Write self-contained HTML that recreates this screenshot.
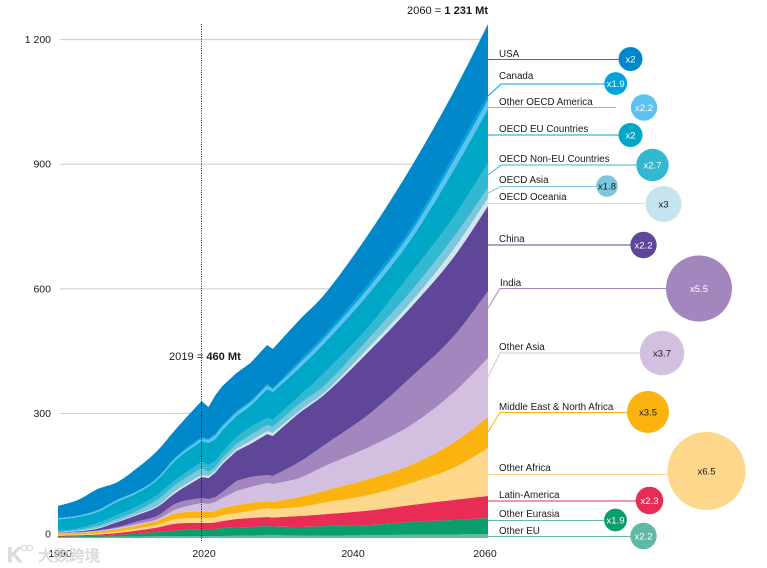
<!DOCTYPE html>
<html lang="en">
<head>
<meta charset="utf-8">
<title>Stacked area chart 2060 = 1 231 Mt</title>
<style>
html,body{margin:0;padding:0;background:#fff;width:767px;height:568px;overflow:hidden}
svg{display:block}
text{font-family:"Liberation Sans","Noto Sans CJK SC",sans-serif;fill:#1a1a1a}
.tick{font-size:10.5px}
.lab{font-size:9.8px}
.bub{font-size:9.5px;text-anchor:middle}
.lead{fill:none;stroke-width:1}
</style>
</head>
<body>
<svg id="chart" xmlns="http://www.w3.org/2000/svg" width="767" height="568" viewBox="0 0 767 568">
  <g id="grid"></g>
  <g id="areas"></g>
  <g id="yticks"></g>
  <g>
    <text class="tick" x="60" y="557" text-anchor="middle">1990</text>
    <text class="tick" x="204" y="557" text-anchor="middle">2020</text>
    <text class="tick" x="353" y="557" text-anchor="middle">2040</text>
    <text class="tick" x="485" y="557" text-anchor="middle">2060</text>
  </g>
  <line x1="201.5" y1="24" x2="201.5" y2="542" stroke="#111" stroke-width="1" stroke-dasharray="1 1.4"/>
  <text x="169" y="360" style="font-size:11.1px">2019 = <tspan font-weight="bold">460 Mt</tspan></text>
  <text x="407" y="14" style="font-size:11.1px">2060 = <tspan font-weight="bold">1 231 Mt</tspan></text>

  <g>
    <path class="lead" stroke="#0088cb" d="M488 59.5H620"/>
    <path class="lead" stroke="#00a3dc" d="M488 96L501 84H606"/>
    <path class="lead" stroke="#5dc2ef" d="M488 107.5H616"/>
    <path class="lead" stroke="#00a7c6" d="M488 135H620"/>
    <path class="lead" stroke="#33b8d2" d="M488 175L501 165H638"/>
    <path class="lead" stroke="#7cc7dc" d="M488 193L501 186.5H598"/>
    <path class="lead" stroke="#c5e4ee" d="M488 203.5H648"/>
    <path class="lead" stroke="#5f4698" d="M488 245H632"/>
    <path class="lead" stroke="#a386bd" d="M488 308L500 288.5H668"/>
    <path class="lead" stroke="#d3c0e0" d="M488 377L500 353H642"/>
    <path class="lead" stroke="#fbb30f" d="M488 432L500 412.5H630"/>
    <path class="lead" stroke="#fdd78c" d="M488 474.5H670"/>
    <path class="lead" stroke="#e82c55" d="M488 501H638"/>
    <path class="lead" stroke="#5fb9a5" d="M488 520.5H606"/>
    <path class="lead" stroke="#5fb9a5" d="M488 536.5H632"/>
  </g>

  <g>
    <text class="lab" x="499" y="57">USA</text>
    <text class="lab" x="499" y="79">Canada</text>
    <text class="lab" x="499" y="105">Other OECD America</text>
    <text class="lab" x="499" y="132">OECD EU Countries</text>
    <text class="lab" x="499" y="162">OECD Non-EU Countries</text>
    <text class="lab" x="499" y="183">OECD Asia</text>
    <text class="lab" x="499" y="200">OECD Oceania</text>
    <text class="lab" x="499" y="242">China</text>
    <text class="lab" x="500" y="286">India</text>
    <text class="lab" x="499" y="350">Other Asia</text>
    <text class="lab" x="499" y="410">Middle East &amp; North Africa</text>
    <text class="lab" x="499" y="471">Other Africa</text>
    <text class="lab" x="499" y="498">Latin-America</text>
    <text class="lab" x="499" y="517">Other Eurasia</text>
    <text class="lab" x="499" y="534">Other EU</text>
  </g>
  <g id="bubbles"></g>

  <g opacity="0.85">
    <text x="7" y="562" style="font-size:21px;font-weight:bold;fill:#d9d9d9;stroke:#bbb;stroke-width:.4">K</text>
    <circle cx="24" cy="548" r="2.6" fill="none" stroke="#d4d4d4" stroke-width="1.2"/>
    <circle cx="30" cy="548" r="2.6" fill="none" stroke="#d4d4d4" stroke-width="1.2"/>
    <text x="38" y="561" style="font-size:15.5px;fill:#dcdcdc;stroke:#bdbdbd;stroke-width:.3">大数跨境</text>
  </g>
</svg>
<script>
// Chart data (Mt, stacked bottom to top)
var years = [1990,1994,1998,2002,2006,2010,2014,2019,2020,2021,2022,2024,2026,2028.4,2029.2,2033,2037,2043,2049,2055,2060];
var otherEu = [1.7,1.9,2.4,2.9,3.6,4.1,4.8,4.8,4.8,4.8,4.8,5.5,6,6.5,6.5,5.5,6,6.7,7.7,8.4,9.6];
var otherEurasia = [1.9,2.4,2.9,4.3,7.2,10.4,13.2,16.9,16.9,17.3,19.3,19.7,20.5,22.4,21.2,20.9,22.9,24.6,30.8,34.9,38.5];
var latinAmerica = [1.7,2.2,3.1,4.8,7.2,10.8,16.9,14.4,14.4,15.2,16.9,20.5,21.7,21.7,21.7,26.5,28.9,34.9,40.9,48.2,53];
var otherAfrica = [1.9,1.9,2.4,3.6,4.8,6,10.8,12,12,12,14.4,14.4,16.9,21.7,20.5,21.7,28.9,37.3,53,77.1,115.6];
var mena = [3.9,3.6,4.8,6,7.2,9.6,14.4,14.4,14.4,15.7,16.9,19.3,19.3,16.9,16.9,24.1,28.9,38.5,43.3,60.2,74.6];
var otherAsia = [0.5,1.2,1.2,2.4,3.6,3.6,9.6,21.7,19.3,21.7,24.1,33.7,38.5,43.3,43.3,45.8,60.2,77.1,96.3,120.4,142.1];
var india = [0.5,1.2,1.2,2.4,6,8.4,14.4,12,12,12,14.4,24.1,24.1,19.3,19.3,38.5,53,79.5,115.6,134.8,161.3];
var china = [0.7,1.7,4.6,12,15.7,21.7,26.5,50.6,50.6,59,67.4,72.2,79.5,98.7,96.3,118,122.8,151.7,168.6,190.2,204.7];
var oecdOceania = [0.5,0.7,1.4,1.2,2.4,2.4,4.8,4.8,4.8,3.6,4.8,4.8,7.2,7.2,7.2,4.8,4.8,9.6,12,19.3,19.3];
var oecdAsia = [1.2,2.4,4.8,6,7.2,14.4,14.4,16.9,9.6,9.6,9.6,12,14.4,14.4,14.4,16.9,16.9,21.7,26.5,28.9,24.1];
var oecdNonEu = [2.4,3.6,7.2,9.6,10.8,12,12,14.4,16.9,14.4,14.4,16.9,19.3,16.9,16.9,19.3,31.3,28.9,43.3,48.2,60.2];
var oecdEu = [27.7,27.7,26.5,32.5,32.5,36.1,48.2,50.6,53,53,53,50.6,50.6,69.8,67.4,67.4,72.2,79.5,81.9,113.2,130];
var otherOecdAmerica = [2.4,2.4,3.6,3.6,3.6,3.6,4.8,6,7.2,9.6,8.4,8.4,8.4,8.4,6,10.8,12,14.4,16.9,21.7,21.7];
var canada = [1.2,1.2,1.2,1.2,1.2,1.2,2.4,3.6,2.4,2.4,3.6,3.6,3.6,3.6,3.6,6,7.2,9.6,9.6,12,12];
var usa = [28.9,37.3,50.6,42.1,55.4,65,67.4,86.7,77.1,93.9,93.9,91.5,91.5,93.9,93.9,98.7,98.7,120.4,146.9,154.1,171];

var yTickValues = [0,300,600,900,1200];
var yTickLabels = ["0","300","600","900","1 200"];

var seriesNames = ["other-eu","other-eurasia","latin-america","other-africa","mena","other-asia","india","china","oecd-oceania","oecd-asia","oecd-non-eu","oecd-eu","other-oecd-america","canada","usa"];
var seriesColors = ["#5fb9a5","#0a9e6a","#e82c55","#fdd78c","#fbb30f","#d3c0e0","#a386bd","#5f4698","#cfe8f0","#7cc7dc","#33b8d2","#00a7c6","#5dc2ef","#00a3dc","#0088cb"];
var seriesValues = [otherEu,otherEurasia,latinAmerica,otherAfrica,mena,otherAsia,india,china,oecdOceania,oecdAsia,oecdNonEu,oecdEu,otherOecdAmerica,canada,usa];

// Growth multipliers shown in the bubbles, top to bottom
var bubbleNames = ["usa","canada","other-oecd-america","oecd-eu","oecd-non-eu","oecd-asia","oecd-oceania","china","india","other-asia","mena","other-africa","latin-america","other-eurasia","other-eu"];
var bubbleMultipliers = [2,1.9,2.2,2,2.7,1.8,3,2.2,5.5,3.7,3.5,6.5,2.3,1.9,2.2];
var bubbleColors = ["#0088cb","#00a3dc","#5dc2ef","#00a7c6","#33b8d2","#7cc7dc","#c5e4ee","#5f4698","#a386bd","#d3c0e0","#fbb30f","#fdd78c","#e82c55","#0a9e6a","#5fb9a5"];
var bubbleTextColors = ["#fff","#fff","#fff","#fff","#fff","#1a1a1a","#1a1a1a","#fff","#fff","#1a1a1a","#1a1a1a","#1a1a1a","#fff","#fff","#fff"];

// Layout of the bubbles (not data)
var bubbleCentreX = [630.5,615.7,644,630.5,652.5,607,663.5,643.5,699,662,648,706.5,649.5,615.5,643.5];
var bubbleCentreY = [59,83.5,107.5,135,165,186,204,245,288.5,353,412,471,500.5,520,536];

var SVGNS = "http://www.w3.org/2000/svg";
function xScale(year){
  return year <= 2019 ? 58 + (year - 1990) * 4.948 : 201.5 + (year - 2019) * 6.988;
}
function yScale(v){
  return 538 - v * 0.4153;
}
function rScale(m){
  return m * 6;
}
// The long-run stretches are smooth curves; the 2019-2029 stretch keeps its sharp kinks.
function isSmoothSegment(i){
  return i <= 6 || i >= 14;
}
function toPoints(totals){
  return years.map(function(y, i){ return [xScale(y), yScale(totals[i])]; });
}
function segment(pts, i, reverse){
  var from = reverse ? pts[i + 1] : pts[i];
  var to = reverse ? pts[i] : pts[i + 1];
  if (!isSmoothSegment(i)) {
    return "L" + to[0].toFixed(2) + " " + to[1].toFixed(2);
  }
  var atStart = i === 0 || i === 14;
  var atEnd = i === 6 || i === pts.length - 2;
  var p0 = atStart ? pts[i] : pts[i - 1];
  var p1 = pts[i];
  var p2 = pts[i + 1];
  var p3 = atEnd ? pts[i + 1] : pts[i + 2];
  var c1 = [p1[0] + (p2[0] - p0[0]) / 6, p1[1] + (p2[1] - p0[1]) / 6];
  var c2 = [p2[0] - (p3[0] - p1[0]) / 6, p2[1] - (p3[1] - p1[1]) / 6];
  var a = reverse ? c2 : c1;
  var b = reverse ? c1 : c2;
  return "C" + a[0].toFixed(2) + " " + a[1].toFixed(2) + " " + b[0].toFixed(2) + " " + b[1].toFixed(2) + " " + to[0].toFixed(2) + " " + to[1].toFixed(2);
}

var grid = document.getElementById("grid");
var yticks = document.getElementById("yticks");
yTickValues.forEach(function(v, i){
  if (v > 0) {
    var line = document.createElementNS(SVGNS, "line");
    line.setAttribute("x1", 60);
    line.setAttribute("x2", 488);
    line.setAttribute("y1", yScale(v));
    line.setAttribute("y2", yScale(v));
    line.setAttribute("stroke", "#c9c9c9");
    line.setAttribute("stroke-width", "1");
    
    
    grid.appendChild(line);
  }
  var t = document.createElementNS(SVGNS, "text");
  t.setAttribute("class", "tick");
  t.setAttribute("x", 51);
  t.setAttribute("y", yScale(v) + (v === 0 ? -0.5 : 3.5));
  t.setAttribute("text-anchor", "end");
  t.textContent = yTickLabels[i];
  
  
  yticks.appendChild(t);
});

var areas = document.getElementById("areas");
var base = years.map(function(){ return 0; });
seriesValues.forEach(function(vals, s){
  var top = vals.map(function(v, i){ return base[i] + v; });
  var topPts = toPoints(top);
  var basePts = toPoints(base);
  var n = years.length;
  var d = "M" + topPts[0][0].toFixed(2) + " " + topPts[0][1].toFixed(2);
  for (var i = 0; i < n - 1; i++) {
    d += segment(topPts, i, false);
  }
  d += "L" + basePts[n - 1][0].toFixed(2) + " " + basePts[n - 1][1].toFixed(2);
  for (var j = n - 2; j >= 0; j--) {
    d += segment(basePts, j, true);
  }
  d += "Z";
  var p = document.createElementNS(SVGNS, "path");
  p.setAttribute("d", d);
  p.setAttribute("fill", seriesColors[s]);
  
  
  areas.appendChild(p);
  base = top;
});

var bubbles = document.getElementById("bubbles");
bubbleMultipliers.forEach(function(m, i){
  var c = document.createElementNS(SVGNS, "circle");
  c.setAttribute("cx", bubbleCentreX[i]);
  c.setAttribute("cy", bubbleCentreY[i]);
  c.setAttribute("r", rScale(m));
  c.setAttribute("fill", bubbleColors[i]);
  
  
  bubbles.appendChild(c);
  var t = document.createElementNS(SVGNS, "text");
  t.setAttribute("class", "bub");
  t.setAttribute("x", bubbleCentreX[i]);
  t.setAttribute("y", bubbleCentreY[i] + 3.3);
  t.setAttribute("style", "fill:" + bubbleTextColors[i]);
  t.textContent = "x" + m;
  
  
  bubbles.appendChild(t);
});
</script>
</body>
</html>
